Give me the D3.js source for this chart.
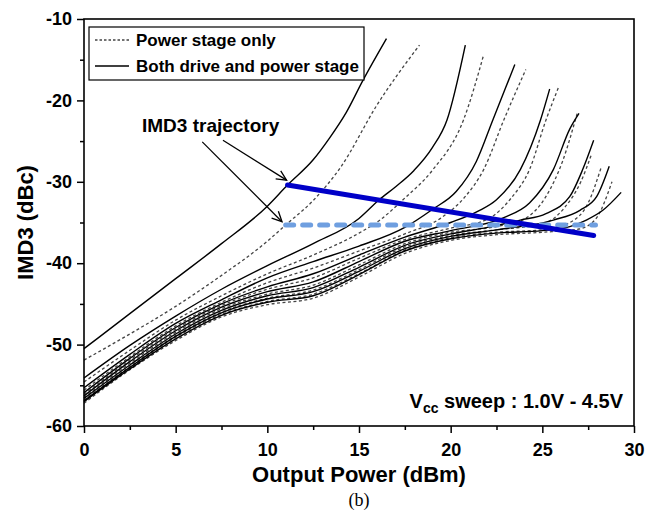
<!DOCTYPE html>
<html>
<head>
<meta charset="utf-8">
<script src="https://cdn.jsdelivr.net/npm/d3@7"></script>
<style>
  body { margin: 0; background: #fff; }
  svg { display: block; }
  text { font-family: Arial, "Liberation Sans", sans-serif; }
</style>
</head>
<body>
<div id="chart"></div>
<script>
// ---- data ----
var xTicks = [0, 5, 10, 15, 20, 25, 30];
var xMinor = [2.5, 7.5, 12.5, 17.5, 22.5, 27.5];
var yTicks = [-60, -50, -40, -30, -20, -10];
var yMinor = [-55, -45, -35, -25, -15];
var vccLevels = ["1.0", "1.5", "2.0", "2.5", "3.0", "3.5", "4.0", "4.5"];

// both drive and power stage (solid), one per Vcc
var s10 = [[0,-50.5],[2.5,-46.2],[5,-41.9],[7.5,-37.6],[10,-33.0],[11.1,-30.4],[12.5,-27.3],[13.4,-24.6],[14.3,-21.5],[15.2,-17.6],[16.5,-12.4]];
var s15 = [[0,-54.1],[2.5,-50.1],[5,-46.5],[7.5,-43.2],[10,-40.3],[12.5,-37.6],[15,-34.5],[16.1,-32.2],[17,-30.6],[18,-28.6],[19,-25.8],[19.8,-22.4],[20.8,-13.2]];
var s20 = [[0,-55.3],[2.5,-51.2],[5,-47.4],[7.5,-44.5],[10,-41.8],[12.5,-39.8],[15,-37.9],[17.5,-35.6],[19,-33.4],[20.3,-31.2],[21.4,-27.5],[22.3,-22.4],[23.5,-15.6]];
var s25 = [[0,-55.9],[2.5,-51.7],[5,-47.9],[7.5,-45.0],[10,-42.9],[12.5,-41.3],[15,-39.0],[17.5,-36.8],[20,-35.0],[21.5,-33.6],[22.5,-32.2],[23.8,-28.5],[24.9,-22.4],[25.4,-18.6]];
var s30 = [[0,-56.3],[2.5,-52.1],[5,-48.3],[7.5,-45.4],[10,-43.5],[12.5,-42.3],[15,-39.8],[17.5,-37.3],[20,-36.0],[22.9,-34.4],[24.3,-32.6],[25.6,-28.5],[26.5,-23.5],[27.0,-21.6]];
var s35 = [[0,-56.6],[2.5,-52.5],[5,-48.7],[7.5,-45.8],[10,-44.0],[12.5,-43.0],[15,-40.5],[17.5,-37.8],[20,-36.4],[22,-35.6],[23.8,-34.7],[25.2,-33.9],[26.5,-31.8],[27.2,-28.5],[27.8,-24.9]];
var s40 = [[0,-56.9],[2.5,-52.8],[5,-49.0],[7.5,-46.1],[10,-44.4],[12.5,-43.5],[15,-41.0],[17.5,-38.2],[20,-36.7],[22.5,-35.9],[25.6,-34.7],[27.05,-33.5],[27.97,-31.8],[28.65,-28.1]];
var s45 = [[0,-57.0],[2.5,-53.0],[5,-49.3],[7.5,-46.4],[10,-44.8],[12.5,-44.0],[15,-41.4],[17.5,-38.5],[20,-37.0],[22.5,-36.3],[25,-36.0],[26.5,-35.5],[27.4,-34.7],[28.3,-33.5],[29.3,-31.3]];

// power stage only (dashed)
var p10 = [[0,-51.9],[2.5,-48.7],[5,-45.3],[7.5,-41.5],[10,-37.3],[11,-35.3],[12.5,-32.3],[14,-28.2],[16,-20.5],[18.3,-13.2]];
var p15 = [[0,-54.6],[2.5,-50.7],[5,-47.0],[7.5,-44.0],[10,-41.3],[12.5,-39.0],[15,-36.3],[16.2,-34.6],[17.4,-32.2],[19,-28.6],[20.7,-22.4],[21.8,-14.4]];
var p20 = [[0,-55.6],[2.5,-51.5],[5,-47.7],[7.5,-44.8],[10,-42.4],[12.5,-40.6],[15,-38.5],[17.5,-36.4],[19.5,-34.4],[20.8,-31.8],[21.8,-28.5],[22.9,-22.4],[24.1,-16.2]];
var p25 = [[0,-56.1],[2.5,-51.9],[5,-48.1],[7.5,-45.2],[10,-43.2],[12.5,-41.8],[15,-39.4],[17.5,-37.1],[20,-35.7],[22,-34.6],[23.3,-32.0],[24.3,-28.5],[25.2,-22.4],[25.9,-18.3]];
var p30 = [[0,-56.5],[2.5,-52.3],[5,-48.5],[7.5,-45.6],[10,-43.8],[12.5,-42.7],[15,-40.2],[17.5,-37.6],[20,-36.2],[22.5,-35.5],[24,-34.6],[25.2,-31.8],[26.1,-27.5],[26.9,-21.6]];
var p35 = [[0,-56.8],[2.5,-52.7],[5,-48.9],[7.5,-46.0],[10,-44.3],[12.5,-43.3],[15,-40.8],[17.5,-38.0],[20,-36.6],[22.5,-35.9],[25,-35.2],[26.2,-33.2],[27.1,-30.0],[27.7,-26.5]];
var p40 = [[0,-57.0],[2.5,-52.9],[5,-49.1],[7.5,-46.3],[10,-44.7],[12.5,-43.8],[15,-41.3],[17.5,-38.4],[20,-36.9],[22.5,-36.2],[25,-35.9],[26.5,-35.0],[27.5,-32.6],[28.2,-28.3]];
var p45 = [[0,-57.2],[2.5,-53.1],[5,-49.5],[7.5,-46.6],[10,-45.1],[12.5,-44.3],[15,-41.7],[17.5,-38.8],[20,-37.2],[22.5,-36.5],[25,-36.2],[27,-35.8],[27.9,-34.6],[28.8,-30.0]];

var bothCurves = [s10, s15, s20, s25, s30, s35, s40, s45];
var powerCurves = [p10, p15, p20, p25, p30, p35, p40, p45];

// IMD3 trajectories
var bothTraj = [[11.1, -30.4], [27.8, -36.6]];
var powerTraj = [[11.0, -35.3], [27.9, -35.3]];

// ---- layout ----
var W = 660, H = 514;
var pLeft = 84, pTop = 19, pRight = 634, pBottom = 426;

var svg = d3.select("#chart").append("svg")
    .attr("width", W)
    .attr("height", H);

var x = d3.scaleLinear().domain([0, 30]).range([pLeft, pRight]);
var y = d3.scaleLinear().domain([-60, -10]).range([pBottom, pTop]);

var line = d3.line()
    .x(function (d) { return x(d[0]); })
    .y(function (d) { return y(d[1]); })
    .curve(d3.curveMonotoneX);
var straight = d3.line()
    .x(function (d) { return x(d[0]); })
    .y(function (d) { return y(d[1]); });

// curves
var plot = svg.append("g");
plot.selectAll(".pwr").data(powerCurves).enter().append("path")
    .attr("class", "pwr")
    .attr("d", line)
    .attr("fill", "none")
    .attr("stroke", "#444")
    .attr("stroke-width", 1.3)
    .attr("stroke-dasharray", "3,2.5");

plot.selectAll(".both").data(bothCurves).enter().append("path")
    .attr("class", "both")
    .attr("d", line)
    .attr("fill", "none")
    .attr("stroke", "#000")
    .attr("stroke-width", 1.4);

// trajectories
plot.append("path")
    .attr("d", straight(powerTraj))
    .attr("fill", "none")
    .attr("stroke", "#6f9fe0")
    .attr("stroke-width", 5)
    .attr("stroke-linecap", "round")
    .attr("stroke-dasharray", "8,9");

plot.append("path")
    .attr("d", straight(bothTraj))
    .attr("fill", "none")
    .attr("stroke", "#0000c8")
    .attr("stroke-width", 5)
    .attr("stroke-linecap", "round");

// axes (plain hyphen minus like the original)
var fmt = function (d) { return String(d); };
svg.append("g")
    .attr("transform", "translate(0," + pBottom + ")")
    .call(d3.axisBottom(x).tickValues(xTicks).tickSize(7).tickPadding(10).tickFormat(fmt));
svg.append("g")
    .attr("transform", "translate(0," + pBottom + ")")
    .call(d3.axisBottom(x).tickValues(xMinor).tickSize(4).tickFormat(""));
svg.append("g")
    .attr("transform", "translate(" + pLeft + ",0)")
    .call(d3.axisLeft(y).tickValues(yTicks).tickSize(7).tickPadding(5).tickFormat(fmt));
svg.append("g")
    .attr("transform", "translate(" + pLeft + ",0)")
    .call(d3.axisLeft(y).tickValues(yMinor).tickSize(4).tickFormat(""));

svg.selectAll(".domain").remove();
svg.selectAll(".tick line").attr("stroke", "#000").attr("stroke-width", 1.5);
svg.selectAll(".tick text")
    .attr("fill", "#000")
    .style("font-size", "18px")
    .style("font-weight", "bold");

// frame
svg.append("rect")
    .attr("x", pLeft).attr("y", pTop)
    .attr("width", pRight - pLeft).attr("height", pBottom - pTop)
    .attr("fill", "none").attr("stroke", "#000").attr("stroke-width", 1.6);

// axis titles
svg.append("text")
    .attr("x", (pLeft + pRight) / 2).attr("y", 482)
    .attr("text-anchor", "middle")
    .style("font-size", "22px").style("font-weight", "bold")
    .text("Output Power (dBm)");

svg.append("text")
    .attr("transform", "translate(33," + ((pTop + pBottom) / 2) + ") rotate(-90)")
    .attr("text-anchor", "middle")
    .style("font-size", "22px").style("font-weight", "bold")
    .text("IMD3 (dBc)");

svg.append("text")
    .attr("x", (pLeft + pRight) / 2).attr("y", 506)
    .attr("text-anchor", "middle")
    .style("font-family", "'Liberation Serif', 'Times New Roman', serif")
    .style("font-size", "18px")
    .text("(b)");

// legend
var leg = svg.append("g");
leg.append("rect")
    .attr("x", 89).attr("y", 27).attr("width", 275).attr("height", 53)
    .attr("fill", "#fff").attr("stroke", "#000").attr("stroke-width", 1.2);
leg.append("line")
    .attr("x1", 95).attr("x2", 129).attr("y1", 40).attr("y2", 40)
    .attr("stroke", "#444").attr("stroke-width", 1.3).attr("stroke-dasharray", "2.5,2");
leg.append("line")
    .attr("x1", 95).attr("x2", 129).attr("y1", 66).attr("y2", 66)
    .attr("stroke", "#000").attr("stroke-width", 1.4);
leg.append("text").attr("x", 136).attr("y", 46)
    .style("font-size", "17px").style("font-weight", "bold")
    .text("Power stage only");
leg.append("text").attr("x", 136).attr("y", 72)
    .style("font-size", "17px").style("font-weight", "bold")
    .text("Both drive and power stage");

// trajectory annotation
svg.append("text")
    .attr("x", 142).attr("y", 132)
    .style("font-size", "19px").style("font-weight", "bold")
    .text("IMD3 trajectory");

var arrows = [
    { from: [7.58, -24.9], to: [11.05, -29.8] },
    { from: [6.45, -25.1], to: [10.8, -34.9] }
];
arrows.forEach(function (a) {
    var x1 = x(a.from[0]), y1 = y(a.from[1]);
    var x2 = x(a.to[0]), y2 = y(a.to[1]);
    var ang = Math.atan2(y2 - y1, x2 - x1);
    var len = 11, spread = 0.45;
    svg.append("line")
        .attr("x1", x1).attr("y1", y1).attr("x2", x2).attr("y2", y2)
        .attr("stroke", "#000").attr("stroke-width", 1.3);
    svg.append("path")
        .attr("d", "M" + (x2 - len * Math.cos(ang - spread)) + "," + (y2 - len * Math.sin(ang - spread)) +
            "L" + x2 + "," + y2 +
            "L" + (x2 - len * Math.cos(ang + spread)) + "," + (y2 - len * Math.sin(ang + spread)))
        .attr("fill", "none").attr("stroke", "#000").attr("stroke-width", 1.3);
});

// Vcc sweep note
var note = svg.append("text")
    .attr("x", 623).attr("y", 408)
    .attr("text-anchor", "end")
    .style("font-size", "20px").style("font-weight", "bold");
note.append("tspan").text("V");
note.append("tspan").attr("dy", 5).style("font-size", "14px").text("cc");
note.append("tspan").attr("dy", -5).text(" sweep : " + vccLevels[0] + "V - " + vccLevels[vccLevels.length - 1] + "V");
</script>
</body>
</html>
